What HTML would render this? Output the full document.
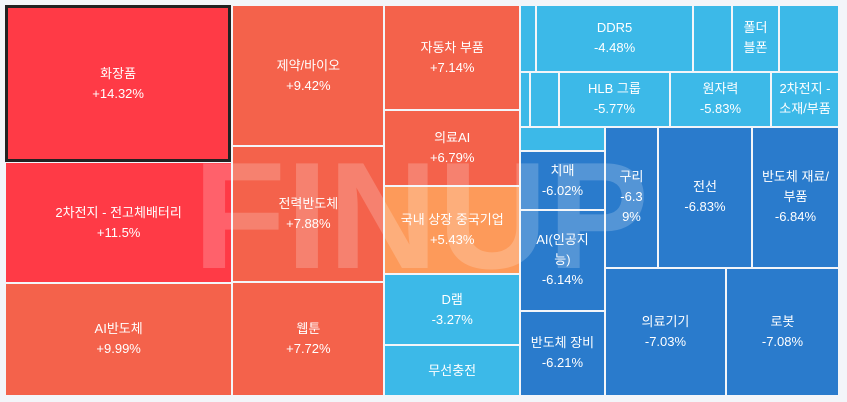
<!DOCTYPE html>
<html><head><meta charset="utf-8">
<style>
html,body{margin:0;padding:0;background:#f3f5f9;width:847px;height:402px;overflow:hidden}
#map{position:absolute;left:0;top:0;width:847px;height:402px}
.cell{position:absolute;box-sizing:border-box;display:flex;align-items:center;justify-content:center;text-align:center;color:#fff;font-family:"Liberation Sans","Noto Sans CJK KR",sans-serif;font-size:13px;line-height:20px;padding:0 4px;white-space:pre-line;overflow-wrap:anywhere;overflow:hidden}
.sel{border:3px solid #222}
#wm{position:absolute;left:0;top:0;pointer-events:none}
</style></head><body>
<div id="map"></div>
<svg id="wm" width="847" height="402"><text x="193" y="268" font-family="Liberation Sans, sans-serif" font-weight="bold" font-size="152" fill="#fff" fill-opacity="0.2">FINUP</text></svg>
<script>
// sector names, changes (%), and size weights
const names=["화장품","2차전지 - 전고체배터리","AI반도체","제약/바이오","전력반도체","웹툰","자동차 부품","의료AI","국내 상장 중국기업","D램","무선충전",
"","DDR5","","폴더\n블폰","","","","HLB 그룹","원자력","2차전지 -\n소재/부품",
"","치매","AI(인공지\n능)","반도체 장비","구리","전선","반도체 재료/\n부품","의료기기","로봇"];
const changes=[14.32,11.5,9.99,9.42,7.88,7.72,7.14,6.79,5.43,-3.27,null,
-4.2,-4.48,-4.6,-4.9,-5.1,-5.3,-5.5,-5.77,-5.83,-5.9,
-5.95,-6.02,-6.14,-6.21,-6.39,-6.83,-6.84,-7.03,-7.08];
const sizes=[35639,27240,25651,21432,20520,17328,14175,10260,11880,9585,6885,
1072,10452,2613,3082,4020,550,1595,6105,5555,3740,
2040,5015,8500,7225,7420,13160,12180,15488,14464];
// cells whose value label doesn't fit (name only)
const nameOnly=[14,20];
// hierarchy: [direction, children]; 'h' = side by side, 'v' = stacked; numbers = leaf indices
const tree=['h',[
 ['v',[0,1,2]],
 ['v',[3,4,5]],
 ['v',[6,7,8,9,10]],
 ['v',[
  ['h',[11,12,13,14,15]],
  ['h',[16,17,18,19,20]],
  ['h',[
    ['v',[21,22,23,24]],
    ['v',[['h',[25,26,27]],['h',[28,29]]]]
  ]]
 ]]
]];
function total(n){return typeof n==='number'?sizes[n]:n[1].reduce((s,c)=>s+total(c),0);}
function color(v){if(v===null)return '#3cb9e8';if(v>=10)return '#ff3a46';if(v>=6)return '#f4624b';if(v>0)return '#fd9a5a';if(v>-6)return '#3cb9e8';return '#2a7bcc';}
function fmt(v){if(v===null)return '';return (v>0?'+':'')+v+'%';}
const map=document.getElementById('map');
function layout(n,x,y,w,h){
 if(typeof n==='number'){
  const d=document.createElement('div');
  d.className='cell'+(n===0?' sel':'');
  
  
  d.style.left=(x+1)+'px';d.style.top=(y+1)+'px';
  d.style.width=(w-2)+'px';d.style.height=(h-2)+'px';
  if(w>50&&w<60)d.style.padding='0 12px';
  d.style.background=color(changes[n]);
  if(n===0){d.style.left=(x)+'px';d.style.top=(y)+'px';d.style.width=(w-1)+'px';d.style.height=(h)+'px';}
  if(names[n]){d.textContent=nameOnly.includes(n)?names[n]:names[n]+'\n'+fmt(changes[n]);}
  map.appendChild(d);return;
 }
 const t=total(n);let off=0;
 n[1].forEach(c=>{const f=total(c)/t;
  if(n[0]==='h'){const cw=w*f;layout(c,x+off,y,cw,h);off+=cw;}
  else{const ch=h*f;layout(c,x,y+off,w,ch);off+=ch;}
 });
}
layout(tree,5,5,834,391);
</script>
</body></html>
